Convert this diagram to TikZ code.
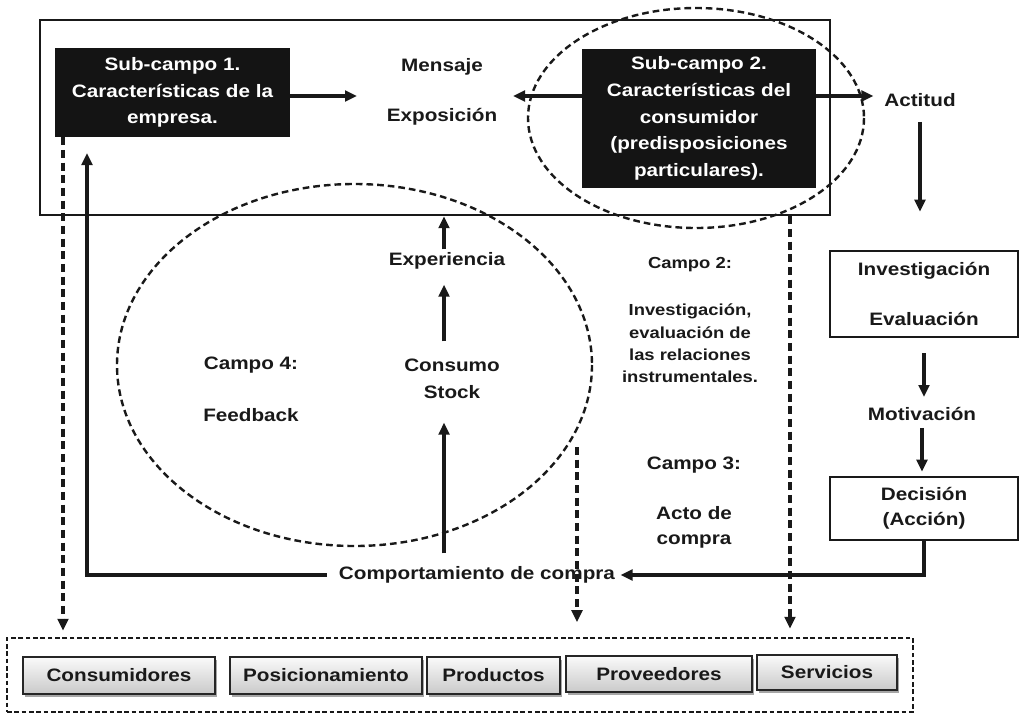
\documentclass[tikz,border=0pt]{standalone}
\usepackage{fontspec}
\setmainfont{Liberation Sans}[FakeStretch=1.15]
\usetikzlibrary{arrows.meta,shadows,calc}

\begin{document}
\begin{tikzpicture}[x=0.75pt,y=-0.75pt,
  every node/.style={font=\bfseries\fontsize{13.5}{16.2}\selectfont, inner sep=0pt, text=black!90},
  darkbox/.style={fill=black!92, text=white, align=center,
    font=\bfseries\fontsize{13.5}{20}\selectfont},
  whitebox/.style={draw=black!90, line width=1.9pt, fill=white, align=center,
    minimum width=141pt},
  btn/.style={draw=black!85, line width=2pt, top color=gray!4, bottom color=gray!42,
    drop shadow={shadow xshift=1.5pt, shadow yshift=-2pt, fill=black!50, opacity=0.7}},
  arr/.style={line width=2.4pt, draw=black!90, -{Triangle[length=9pt,width=8pt]}},
  darr/.style={line width=2.3pt, draw=black!90, dash pattern=on 6pt off 3.5pt,
    -{Triangle[length=9pt,width=8pt]}},
  dring/.style={line width=1.8pt, draw=black!90, dash pattern=on 5pt off 3pt},
]
\useasboundingbox (0,0) rectangle (1024,714);

% upper frame with the two sub-fields
\node[draw=black!90, line width=1.8pt, minimum width=592.5pt, minimum height=146.25pt]
  (main) at (435,117.5) {};
\node[darkbox, minimum width=176.25pt, minimum height=66.75pt] (sc1) at (172.5,92.5)
  {Sub-campo 1.\\Características de la\\empresa.};
\node[darkbox, minimum width=175.5pt, minimum height=104.25pt] (sc2) at (699,118.5)
  {Sub-campo 2.\\Características del\\consumidor\\(predisposiciones\\particulares).};
\node (mens) at (442,67) {Mensaje};
\node (expo) at (442,117) {Exposición};
\coordinate (msgL) at (357,96);
\coordinate (msgR) at (513,96);
\draw[arr] (sc1.east |- msgL) -- (msgL);
\draw[arr] (sc2.west |- msgR) -- (msgR);

% right column: decision chain
\node (act) at (920,100) {Actitud};
\draw[arr] (sc2.east |- msgR) -- ([xshift=-8pt]act.west |- msgR);
\node[whitebox, minimum height=64.5pt] (inv) at (924,294) {Investigación\\[21pt]Evaluación};
\node (mot) at (922,414) {Motivación};
\node[whitebox, minimum height=47.25pt, font=\bfseries\fontsize{13.5}{18.75}\selectfont]
  (dec) at (924,508.5) {Decisión\\(Acción)};
\draw[arr] ($(act.south)+(0,15)$) -- ($(act.south |- inv.north)+(0,-38)$);
\draw[arr] ($(inv.south)+(0,15)$) -- ($(inv.south |- mot.north)+(0,-10)$);
\draw[arr] ($(mot.south)+(0,7)$) -- ($(mot.south |- dec.north)+(0,-4)$);

% purchase behaviour and feedback loop
\node[inner xsep=4pt] (comp) at (477,575) {Comportamiento de compra};
\coordinate (fbtip) at (87,153);
\draw[arr] (dec.south) |- (comp.east);
\draw[arr] ([xshift=-5pt]comp.west) -| (fbtip);

\node (c4) at (251,365) {Campo 4:};
\node (fb) at (251,415) {Feedback};
\node[align=center, font=\bfseries\fontsize{13.5}{20.25}\selectfont] (cons) at (452,378.5)
  {Consumo\\Stock};
\node (exp) at (447,261) {Experiencia};
\coordinate (xa) at (444,0);
\draw[arr] ($(xa |- comp.north)+(0,-13)$) -- ($(xa |- cons.south)+(0,24)$);
\draw[arr] ($(xa |- cons.north)+(0,-17)$) -- ($(xa |- exp.south)+(0,15)$);
\draw[arr] ($(xa |- exp.north)+(0,-3)$) -- (xa |- main.south);

% fields 2 and 3
\node[font=\bfseries\fontsize{12}{16.7}\selectfont] (c2) at (690,265) {Campo 2:};
\node[align=center, font=\bfseries\fontsize{12}{16.7}\selectfont] (c2t) at (690,343.5)
  {Investigación,\\evaluación de\\las relaciones\\instrumentales.};
\node (c3) at (694,465) {Campo 3:};
\node[align=center, font=\bfseries\fontsize{13.5}{18.75}\selectfont] (c3t) at (694,527.5)
  {Acto de\\compra};

% dashed rings
\draw[dring] (354.5,365) ellipse [x radius=237.5, y radius=181];
\draw[dring] (696,118) ellipse [x radius=168, y radius=110];

% outcome categories
\node[draw=black!90, line width=1.8pt, dash pattern=on 3.5pt off 2pt,
  minimum width=679.5pt, minimum height=55.5pt] (cat) at (460,675) {};
\node[btn, minimum width=144pt, minimum height=27.75pt] (b1) at (119,675.5) {Consumidores};
\node[btn, minimum width=144pt, minimum height=27.75pt] (b2) at (326,675.5) {Posicionamiento};
\node[btn, minimum width=99.75pt, minimum height=27.75pt] (b3) at (493.5,675.5) {Productos};
\node[btn, minimum width=139.5pt, minimum height=27pt] (b4) at (659,674) {Proveedores};
\node[btn, minimum width=105pt, minimum height=26.25pt] (b5) at (827,672.5) {Servicios};

\coordinate (xl) at (63,0);
\coordinate (xr) at (790,0);
\coordinate (ms) at (577,447);
\draw[darr, shorten >=4.5pt] (xl |- sc1.south) -- (xl |- cat.north);
\draw[darr, shorten >=11pt] (ms) -- (ms |- cat.north);
\draw[darr, shorten >=6pt] (xr |- main.south) -- (xr |- cat.north);
\end{tikzpicture}
\end{document}
